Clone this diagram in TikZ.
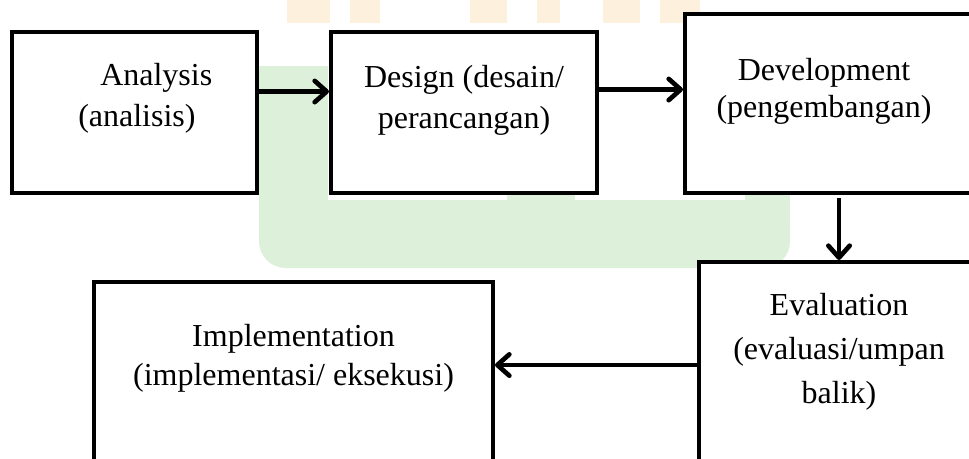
\documentclass[tikz,border=0pt]{standalone}
\usepackage{fontspec}
\setmainfont{Liberation Serif}
\usetikzlibrary{arrows.meta,positioning}
\definecolor{wmgreen}{RGB}{221,240,217}
\definecolor{wmorange}{RGB}{253,241,222}

\begin{document}
\begin{tikzpicture}[
  x=0.75pt, y=-0.75pt,
  box/.style={draw, line width=3.5pt, fill=white, outer sep=0pt, inner sep=0pt},
  toprow/.style={box, minimum height=120.75pt},
  txt/.style={inner sep=0pt, align=center, font=\fontsize{24}{31}\selectfont},
  arrow/.style={-{Straight Barb[length=9pt,width=16pt,round]}, line width=3.5pt, shorten >=1.5pt},
]
  \useasboundingbox (0,0) rectangle (969,458);
  \clip (0,0) rectangle (969,458);

  % faint watermark behind the chart
  \fill[wmgreen] (259,66) rectangle (328,240);
  \fill[wmgreen] (507,190) rectangle (575,230);
  \fill[wmgreen] (745,190) rectangle (790,230);
  \fill[wmgreen, rounded corners=20pt] (259,200) rectangle (790,268);
  \foreach \xa/\xb in {287/330, 350/380, 470/507, 537/560, 603/640, 660/700}
    \fill[wmorange] (\xa,0) rectangle (\xb,23);

  % stages
  \node[toprow, minimum width=183.75pt] (ana) at (134.5,112.5) {};
  \node[toprow, minimum width=199.5pt, right=55.5pt of ana] (des) {};
  \node[box, minimum width=231pt, minimum height=134.25pt, right=66pt of des.south east, anchor=south west] (dev) {};
  \node[box, minimum width=210pt, minimum height=154.5pt, below=51.75pt of dev] (eva) {};
  \node[box, minimum width=299.25pt, minimum height=150pt, left=154.5pt of eva.north west, anchor=north east, yshift=-15pt] (imp) {};

  \node[txt, align=left, below right=23.25pt and 49.5pt of ana.north west] (anatxt) {\hspace*{16.5pt}Analysis\\(analisis)};
  \node[txt, below=24.75pt of des.north] (destxt) {Design (desain/\\perancangan)};
  \node[txt, font=\fontsize{24}{28}\selectfont, below=33pt of dev.north, xshift=-11.25pt] (devtxt) {Development\\(pengembangan)};
  \node[txt, font=\fontsize{24}{33}\selectfont, below=23.25pt of eva.north] (evatxt) {Evaluation\\(evaluasi/umpan\\balik)};
  \node[txt, font=\fontsize{24}{29}\selectfont, below=31.5pt of imp.north] (imptxt) {Implementation\\(implementasi/ eksekusi)};

  % flow
  \draw[arrow] ([yshift=15.75pt]ana.east) -- ([yshift=15.75pt]des.west);
  \draw[arrow] ([yshift=17.25pt]des.east) -- ([yshift=17.25pt]des.east -| dev.west);
  \draw[arrow, shorten <=4pt] (dev.south) -- (eva.north);
  \draw[arrow] (eva.west) -- (eva.west -| imp.east);
\end{tikzpicture}
\end{document}
